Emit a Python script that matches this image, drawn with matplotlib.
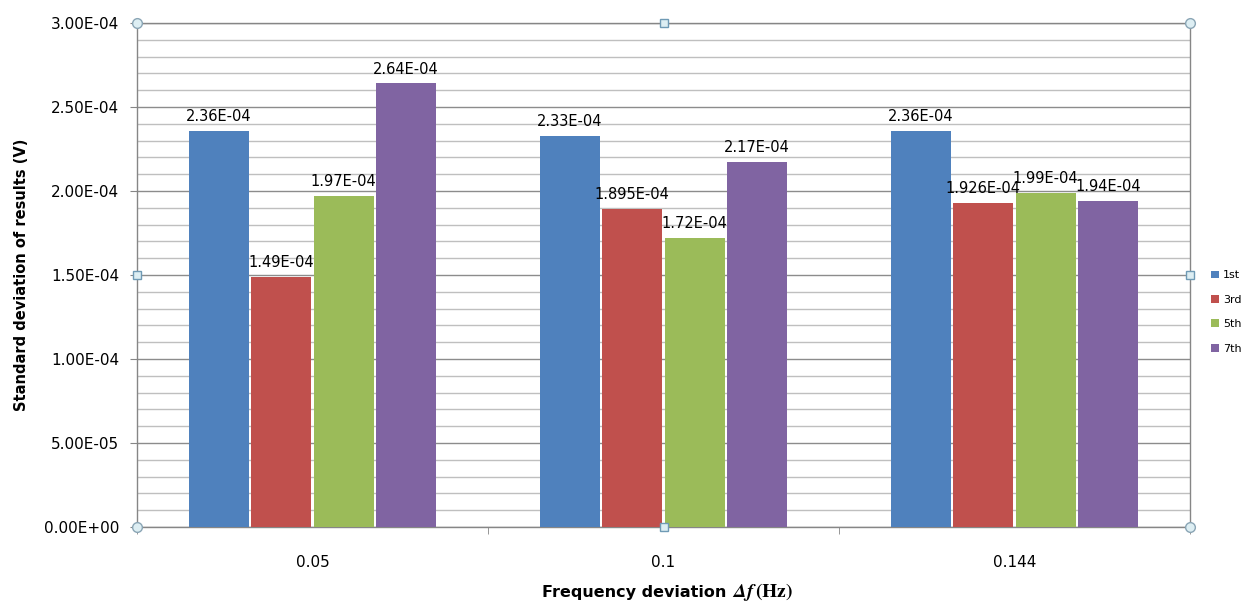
import matplotlib
matplotlib.use("Agg")
import matplotlib.pyplot as plt
from matplotlib.ticker import MultipleLocator, FixedLocator, NullFormatter
import numpy as np

plt.rcParams['font.family'] = ['DejaVu Sans']
plt.rcParams['mathtext.fontset'] = 'stix'

categories = ['0.05', '0.1', '0.144']
series = ['1st', '3rd', '5th', '7th']
colors = ['#4F81BD', '#C0504D', '#9BBB59', '#8064A2']
values_1st = [2.36e-4, 2.33e-4, 2.36e-4]
values_3rd = [1.49e-4, 1.895e-4, 1.926e-4]
values_5th = [1.97e-4, 1.72e-4, 1.99e-4]
values_7th = [2.64e-4, 2.17e-4, 1.94e-4]
all_values = [values_1st, values_3rd, values_5th, values_7th]


def fmt(v):
    s = '%.3E' % v
    mant, exp = s.split('E')
    if mant.endswith('0'):
        mant = mant[:-1]
    return mant + 'E' + exp


fig = plt.figure(figsize=(12.42, 6.03), dpi=100)
ax = fig.add_axes([137 / 1242, 76 / 603, 1053 / 1242, 504 / 603])

x = np.arange(len(categories))
width = 0.17
step = 0.178
for i, (name, vals, c) in enumerate(zip(series, all_values, colors)):
    off = (i - 1.5) * step
    bars = ax.bar(x + off, vals, width, color=c, label=name, zorder=3)
    for b, v in zip(bars, vals):
        ax.annotate(fmt(v), (b.get_x() + b.get_width() / 2, v),
                    xytext=(0, 5), textcoords='offset points',
                    ha='center', va='bottom', fontsize=10.5, zorder=4)

ax.set_xlim(-0.5, 2.5)
ax.set_ylim(0, 3e-4)
ax.yaxis.set_major_locator(MultipleLocator(5e-5))
ax.yaxis.set_minor_locator(MultipleLocator(1e-5))
ax.yaxis.set_major_formatter(lambda v, p: '%.2E' % v)
ax.grid(axis='y', which='major', color='#8C8C8C', linewidth=1, zorder=0)
ax.grid(axis='y', which='minor', color='#BFBFBF', linewidth=1, zorder=0)
ax.tick_params(axis='y', which='major', length=5, color='#868686',
               labelsize=11, pad=8)
ax.tick_params(axis='y', which='minor', length=0)

ax.set_xticks(x)
ax.set_xticklabels(categories)
ax.xaxis.set_minor_locator(FixedLocator([-0.5, 0.5, 1.5, 2.5]))
ax.xaxis.set_minor_formatter(NullFormatter())
ax.tick_params(axis='x', which='major', length=0, labelsize=11, pad=20)
ax.tick_params(axis='x', which='minor', length=5, color='#868686')

for s in ax.spines.values():
    s.set_color('#868686')
    s.set_linewidth(1)

# selection handles (Excel look)
for px, py in [(0, 0), (1, 0), (0, 1), (1, 1)]:
    ax.plot(px, py, 'o', ms=7, mfc='#DDEEF3', mec='#8AA5B5', mew=1,
            transform=ax.transAxes, clip_on=False, zorder=6)
for px, py in [(0.5, 0), (0.5, 1), (0, 0.5), (1, 0.5)]:
    ax.plot(px, py, 's', ms=6, mfc='#DDEEF3', mec='#6F9AB5', mew=1,
            transform=ax.transAxes, clip_on=False, zorder=6)

fig.text(22 / 1242, 0.5 + 27 / 603, 'Standard deviation of results (V)', rotation=90,
         ha='center', va='center', fontsize=10.5, fontweight='bold')
xl_y = 1 - 597 / 603
fig.text(726 / 1242, xl_y, 'Frequency deviation',
         ha='right', va='baseline', fontsize=11.5, fontweight='bold')
fig.text(732 / 1242, xl_y, r'$\mathbfit{\Delta f}\,\mathbf{(Hz)}$',
         ha='left', va='baseline', fontsize=14)

ax.legend(loc='center left', bbox_to_anchor=(1203 / 1242, 1 - 312 / 603),
          bbox_transform=fig.transFigure, frameon=False, fontsize=8,
          handlelength=0.7, handleheight=0.7, handletextpad=0.4,
          labelspacing=1.3, borderpad=0.2)

fig.savefig('out.png', dpi=100)
